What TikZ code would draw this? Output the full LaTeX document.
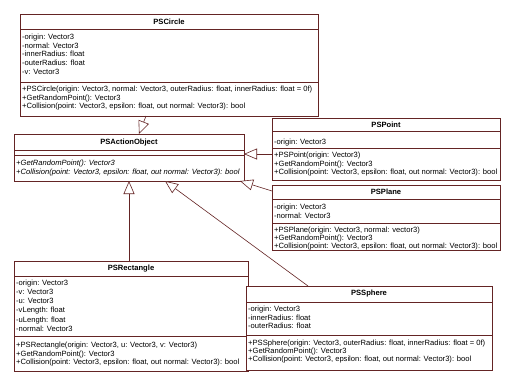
\documentclass[tikz,border=0pt]{standalone}
\usepackage{fontspec}
\setmainfont{Liberation Sans}
\usetikzlibrary{arrows.meta}
\definecolor{umlred}{RGB}{100,36,36}
\tikzset{
  box/.style={draw=umlred, fill=white, line width=0.8pt, anchor=north west, inner sep=0pt, outer sep=0pt},
  sepline/.style={draw=umlred, line width=0.8pt},
  txt/.style={anchor=north west, inner sep=0pt, align=left, font=\fontsize{7.6}{8.8}\selectfont},
  ttl/.style={anchor=center, inner sep=0pt, font=\fontsize{7.6}{8.8}\selectfont\bfseries},
  gen/.style={draw=umlred, line width=0.6pt, -{Triangle[open, length=13pt, width=11pt, fill=white]}}
}
\begin{document}
\begin{tikzpicture}[x=1pt, y=-1pt]
\useasboundingbox[fill=white] (0,0) rectangle (516,386);

% PSCircle
\node[box, minimum width=298pt, minimum height=102pt] (circle) at (20,14) {};
\draw[sepline] (20,29) -- (318,29);
\draw[sepline] (20,82) -- (318,82);
\node[ttl] (circleT) at (169,21.5) {PSCircle};
\node[txt] (circleA) at (22,33.5) {-origin: Vector3\\-normal: Vector3\\-innerRadius: float\\-outerRadius: float\\-v: Vector3};
\node[txt] (circleM) at (22,85.5) {+PSCircle(origin: Vector3, normal: Vector3, outerRadius: float, innerRadius: float = 0f)\\+GetRandomPoint(): Vector3\\+Collision(point: Vector3, epsilon: float, out normal: Vector3): bool};

% PSActionObject
\node[box, minimum width=230pt, minimum height=47pt] (action) at (14,134) {};
\draw[sepline] (14,150) -- (244,150);
\draw[sepline] (14,155) -- (244,155);
\node[ttl] (actionT) at (129,142.5) {PSActionObject};
\node[txt, font=\fontsize{7.6}{9.4}\selectfont\itshape] (actionM) at (16,159.5) {+GetRandomPoint(): Vector3\\+Collision(point: Vector3, epsilon: float, out normal: Vector3): bool};

% PSPoint
\node[box, minimum width=228pt, minimum height=62pt] (point) at (272,118) {};
\draw[sepline] (272,131) -- (500,131);
\draw[sepline] (272,148) -- (500,148);
\node[ttl] (pointT) at (386,124.5) {PSPoint};
\node[txt] (pointA) at (274,138.5) {-origin: Vector3};
\node[txt] (pointM) at (274,151.5) {+PSPoint(origin: Vector3)\\+GetRandomPoint(): Vector3\\+Collision(point: Vector3, epsilon: float, out normal: Vector3): bool};

% PSPlane
\node[box, minimum width=228pt, minimum height=65pt] (plane) at (272,185) {};
\draw[sepline] (272,199) -- (500,199);
\draw[sepline] (272,223) -- (500,223);
\node[ttl] (planeT) at (386,192) {PSPlane};
\node[txt] (planeA) at (274,203.5) {-origin: Vector3\\-normal: Vector3};
\node[txt, font=\fontsize{7.6}{8.2}\selectfont] (planeM) at (274,226.5) {+PSPlane(origin: Vector3, normal: vector3)\\+GetRandomPoint(): Vector3\\+Collision(point: Vector3, epsilon: float, out normal: Vector3): bool};

% PSRectangle
\node[box, minimum width=234pt, minimum height=110pt] (rect) at (14,261) {};
\draw[sepline] (14,276) -- (248,276);
\draw[sepline] (14,336) -- (248,336);
\node[ttl] (rectT) at (131,268.3) {PSRectangle};
\node[txt, font=\fontsize{7.6}{9.2}\selectfont] (rectA) at (16,279.5) {-origin: Vector3\\-v: Vector3\\-u: Vector3\\-vLength: float\\-uLength: float\\-normal: Vector3};
\node[txt] (rectM) at (16,341.5) {+PSRectangle(origin: Vector3, u: Vector3, v: Vector3)\\+GetRandomPoint(): Vector3\\+Collision(point: Vector3, epsilon: float, out normal: Vector3): bool};

% PSSphere
\node[box, minimum width=246pt, minimum height=84pt] (sphere) at (246,286) {};
\draw[sepline] (246,302) -- (492,302);
\draw[sepline] (246,335) -- (492,335);
\node[ttl] (sphereT) at (369,294) {PSSphere};
\node[txt] (sphereA) at (248,305.5) {-origin: Vector3\\-innerRadius: float\\-outerRadius: float};
\node[txt, font=\fontsize{7.6}{8.2}\selectfont] (sphereM) at (248,339.5) {+PSSphere(origin: Vector3, outerRadius: float, innerRadius: float = 0f)\\+GetRandomPoint(): Vector3\\+Collision(point: Vector3, epsilon: float, out normal: Vector3): bool};

% generalizations
\draw[gen] (146,0 |- circle.south) -- (139,0 |- action.north);
\draw[gen] (point.west |- 0,154) -- (action.east |- 0,154);
\draw[gen] (plane.west |- 0,191) -- (240,0 |- action.south);
\draw[gen] (129,0 |- rect.north) -- (129,0 |- action.south);
\draw[gen] (308,0 |- sphere.north) -- (165,0 |- action.south);
\end{tikzpicture}
\end{document}
